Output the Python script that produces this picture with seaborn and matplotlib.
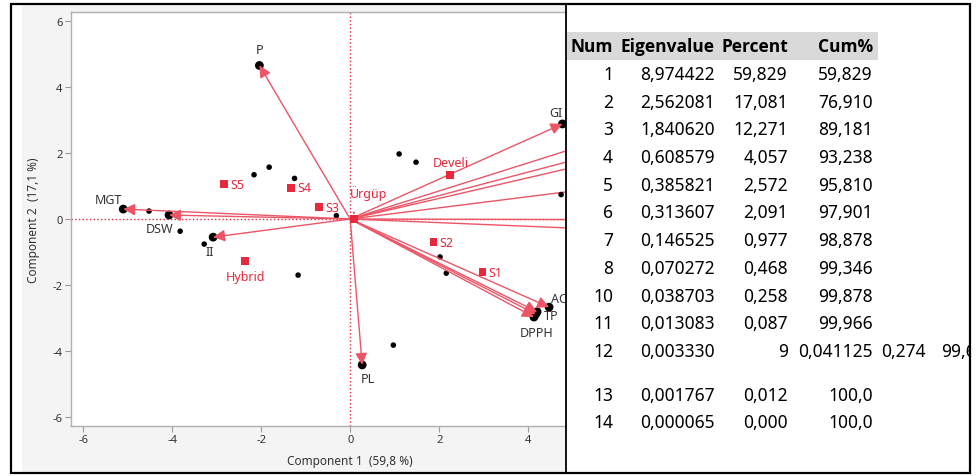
import matplotlib
matplotlib.use("Agg")
import matplotlib.pyplot as plt
from matplotlib.patches import Rectangle
import seaborn as sns
import pandas as pd

# loading vectors (arrows with labels)
var_names = ["P", "MGT", "DSW", "II", "GI", "AC", "TP", "DPPH", "PL", ""]
var_x = [-2.04, -5.10, -4.07, -3.08, 4.77, 4.47, 4.20, 4.13, 0.27, 4.17]
var_y = [4.65, 0.30, 0.12, -0.55, 2.88, -2.67, -2.81, -2.97, -4.42, -2.88]

# rays that run off the cropped right side
ray_x = [5.6, 5.8, 5.7, 5.5, 5.6, 5.6]
ray_y = [2.38, 2.06, 1.78, 0.93, -0.02, -0.31]

# other scores (small black dots)
obs_x = [-4.52, -3.82, -3.28, -1.17, -2.16, -1.82, -1.25, -0.31, 1.10, 1.48, 4.74, 2.02, 2.16, 0.97]
obs_y = [0.24, -0.37, -0.76, -1.70, 1.34, 1.57, 1.23, 0.10, 1.97, 1.72, 0.74, -1.15, -1.64, -3.82]

# groups (red squares)
grp_names = ["S5", "S4", "S3", "Ürgüp", "Develi", "Hybrid", "S2", "S1"]
grp_x = [-2.83, -1.33, -0.70, 0.09, 2.25, -2.36, 1.87, 2.97]
grp_y = [1.06, 0.94, 0.36, 0.0, 1.33, -1.27, -0.70, -1.61]

# eigenvalue table
tab_head = ["Num", "Eigenvalue", "Percent", "Cum%"]
tab_num = ["1", "2", "3", "4", "5", "6", "7", "8", "10", "11", "12", "13", "14"]
tab_eig = ["8,974422", "2,562081", "1,840620", "0,608579", "0,385821", "0,313607",
           "0,146525", "0,070272", "0,038703", "0,013083", "0,003330", "0,001767", "0,000065"]
tab_pct = ["59,829", "17,081", "12,271", "4,057", "2,572", "2,091",
           "0,977", "0,468", "0,258", "0,087", "9", "0,012", "0,000"]
tab_cum = ["59,829", "76,910", "89,181", "93,238", "95,810", "97,901",
           "98,878", "99,346", "99,878", "99,966", "0,041125", "100,0", "100,0"]
row12_extra = ["0,274", "99,620"]

RED = "#e8283c"
LINE = "#ec5566"
W, H = 979, 477

sns.set_style("white")
plt.rcParams["font.family"] = ["Noto Sans", "DejaVu Sans"]

fig = plt.figure(figsize=(W / 100, H / 100), dpi=100)

# grey panel behind the biplot
fig.patches.append(Rectangle((22 / W, 3 / H), (566 - 22) / W, (472 - 3) / H,
                             transform=fig.transFigure, facecolor="#f4f4f4",
                             edgecolor="none", zorder=-5))

ax = fig.add_axes([70.7 / W, 1 - 427 / H, (566 - 70.7) / W, (427 - 13) / H])
ax.set_facecolor("white")
ax.set_xlim(-6.28, 4.85)
ax.set_ylim(-6.27, 6.27)

ax.axhline(0, color=RED, ls=":", lw=1, zorder=1)
ax.axvline(0, color=RED, ls=":", lw=1, zorder=1)

for x, y in zip(ray_x, ray_y):
    ax.plot([0, x], [0, y], color=LINE, lw=1, zorder=2)

vars_df = pd.DataFrame({"x": var_x, "y": var_y, "name": var_names})
sns.scatterplot(data=vars_df, x="x", y="y", color="black", s=40, edgecolor="none",
                ax=ax, zorder=3, legend=False)
for x, y in zip(var_x, var_y):
    ax.annotate("", xy=(x, y), xytext=(0, 0),
                arrowprops=dict(arrowstyle="-|>,head_length=0.7,head_width=0.35",
                                color=LINE, lw=1, mutation_scale=10,
                                shrinkA=0, shrinkB=0, facecolor=RED), zorder=4)

obs_df = pd.DataFrame({"x": obs_x, "y": obs_y})
sns.scatterplot(data=obs_df, x="x", y="y", color="black", s=16, edgecolor="none",
                ax=ax, zorder=3, legend=False)

grp_df = pd.DataFrame({"x": grp_x, "y": grp_y, "name": grp_names})
sns.scatterplot(data=grp_df, x="x", y="y", color=RED, marker="s", s=30,
                edgecolor="none", ax=ax, zorder=5, legend=False)

# variable labels: offset in pixels and alignment
var_lab = {"P": (0, 16, "center"), "MGT": (-15, 10, "center"), "DSW": (-9, -13, "center"),
           "II": (-3, -14, "center"), "GI": (-7, 11, "center"), "AC": (2, 9, "left"),
           "TP": (7, -4, "left"), "DPPH": (3, -15, "center"), "PL": (6, -14, "center")}
for n, x, y in zip(var_names, var_x, var_y):
    if n in var_lab:
        dx, dy, ha = var_lab[n]
        ax.annotate(n, (x, y), xytext=(dx, dy), textcoords="offset pixels",
                    ha=ha, va="center", fontsize=9, color="#333333",
                    annotation_clip=False, zorder=6)

grp_lab = {"S5": (6, 0, "left"), "S4": (6, 0, "left"), "S3": (6, 0, "left"),
           "S2": (6, 0, "left"), "S1": (6, 0, "left"), "Develi": (0, 13, "center"),
           "Hybrid": (0, -16, "center"), "Ürgüp": (14, 26, "center")}
for n, x, y in zip(grp_names, grp_x, grp_y):
    dx, dy, ha = grp_lab[n]
    if n == "Ürgüp":
        ax.annotate(n, (x, y), xytext=(dx, dy), textcoords="offset pixels",
                    ha=ha, va="center", fontsize=9, color=RED, zorder=6,
                    arrowprops=dict(arrowstyle="-", color=RED, lw=1,
                                    shrinkA=6, shrinkB=4,
                                    relpos=(0.1, 0)))
    else:
        ax.annotate(n, (x, y), xytext=(dx, dy), textcoords="offset pixels",
                    ha=ha, va="center", fontsize=9, color=RED, zorder=6)

ax.set_xticks([-6, -4, -2, 0, 2, 4])
ax.set_yticks([-6, -4, -2, 0, 2, 4, 6])
ax.set_xticklabels(["-6", "-4", "-2", "0", "2", "4"])
ax.set_yticklabels(["-6", "-4", "-2", "0", "2", "4", "6"])
ax.tick_params(direction="out", length=4, width=0.8, color="#999999",
               labelsize=8, labelcolor="#333333", pad=2,
               bottom=True, left=True)
for s in ["left", "bottom", "top"]:
    ax.spines[s].set_color("#b0b0b0")
    ax.spines[s].set_linewidth(1)
ax.spines["right"].set_visible(False)
ax.set_xlabel("Component 1  (59,8 %)", fontsize=8.5, color="#333333")
ax.set_ylabel("Component 2  (17,1 %)", fontsize=8.5, color="#333333")
ax.xaxis.set_label_coords(0.564, -0.068)
ax.yaxis.set_label_coords(-0.062, 0.5)

# table panel, pixel coordinates
tx = fig.add_axes([567 / W, 0, (970 - 567) / W, 1])
tx.set_xlim(567, 970)
tx.set_ylim(H, 0)
tx.axis("off")
tx.add_patch(Rectangle((567, 33), 878 - 567, 28, facecolor="#d9d9d9", edgecolor="none"))
col_right = [613, 715, 788, 873]
for c, h in zip(col_right, tab_head):
    tx.text(c, 47, h, ha="right", va="center", fontsize=12.5, fontweight="bold",
            family=["Open Sans", "DejaVu Sans"], color="black")
for i, row in enumerate(zip(tab_num, tab_eig, tab_pct, tab_cum)):
    yy = 75 + i * 27.7 + (16 if i > 10 else 0)
    for c, v in zip(col_right, row):
        tx.text(c, yy, v, ha="right", va="center", fontsize=12.5, color="black")
    if tab_num[i] == "12":
        tx.text(926, yy, row12_extra[0], ha="right", va="center", fontsize=12.5,
                color="black", clip_on=True)
        tx.text(941, yy, row12_extra[1], ha="left", va="center", fontsize=12.5,
                color="black", clip_on=True)

# outer border and divider
fig.patches.append(Rectangle((11 / W, 3 / H), (970 - 11) / W, (472 - 3) / H,
                             transform=fig.transFigure, facecolor="none",
                             edgecolor="black", lw=1.6, zorder=10))
fig.lines.append(plt.Line2D([566.5 / W, 566.5 / W], [3 / H, 472 / H],
                            transform=fig.transFigure, color="black", lw=1.3, zorder=10))

fig.savefig("out.png", dpi=100, facecolor="white")
